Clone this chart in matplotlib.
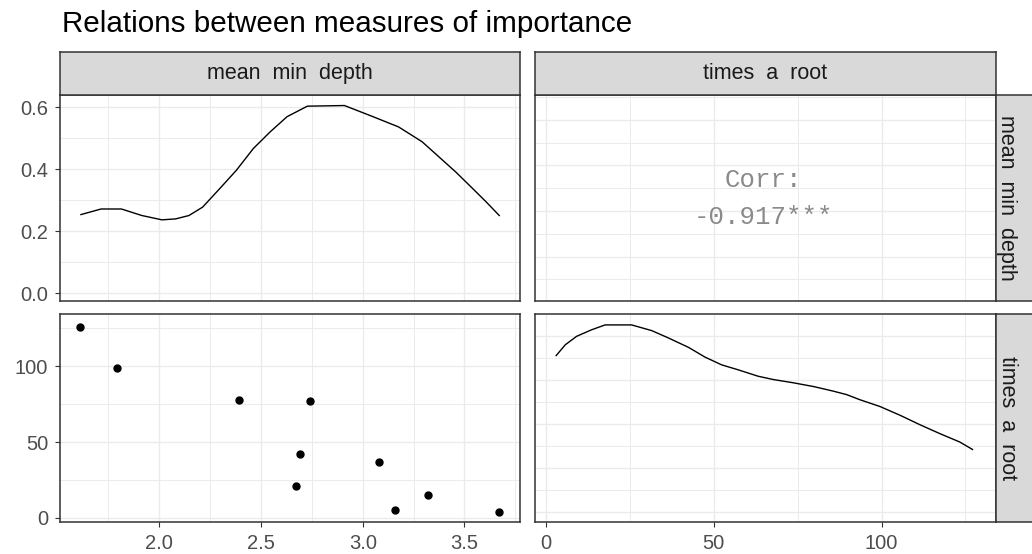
import numpy as np
import matplotlib

matplotlib.use("Agg")
import matplotlib.pyplot as plt

plt.rcParams["font.family"] = ["Liberation Sans", "DejaVu Sans"]

W, H = 1032, 554

# importance measures per variable
mean_min_depth = [1.61, 1.79, 2.39, 2.74, 2.69, 2.67, 3.08, 3.16, 3.32, 3.67]
times_a_root = [126, 99, 78, 77, 42, 21, 37, 5, 15, 4]
corr_value = -0.917

# diagonal density curves
depth_dens_x = [1.615, 1.714, 1.814, 1.914, 2.013, 2.080, 2.146, 2.213, 2.296,
                2.379, 2.462, 2.545, 2.628, 2.728, 2.910, 3.043, 3.176, 3.292,
                3.375, 3.458, 3.542, 3.608, 3.671]
depth_dens_y = [0.254, 0.272, 0.272, 0.251, 0.237, 0.240, 0.251, 0.278, 0.337,
                0.397, 0.467, 0.521, 0.570, 0.604, 0.606, 0.572, 0.537, 0.489,
                0.440, 0.391, 0.337, 0.294, 0.251]
root_dens_x = [3.0, 5.7, 9.1, 13.6, 17.6, 25.5, 31.5, 36.4, 42.4, 47.4, 52.3,
               57.3, 63.2, 67.7, 73.7, 79.7, 85.6, 89.6, 93.5, 99.5, 105.5,
               111.4, 117.4, 123.3, 127.1]
root_dens_y = [0.00712, 0.00761, 0.00800, 0.00830, 0.00852, 0.00852, 0.00826,
               0.00793, 0.00750, 0.00705, 0.00670, 0.00647, 0.00618, 0.00603,
               0.00588, 0.00571, 0.00550, 0.00534, 0.00511, 0.00480, 0.00440,
               0.00397, 0.00356, 0.00318, 0.00284]

depth_lim = (1.512, 3.773)
root_lim = (-3.3, 134.1)
depth_major = [2.0, 2.5, 3.0, 3.5]
depth_minor = [1.75, 2.25, 2.75, 3.25, 3.75]
root_major = [0, 50, 100]
root_minor = [25, 75, 125]

GRID = "#EBEBEB"
DARK = "#333333"
TICK_TXT = "#4D4D4D"


def px_axes(fig, x0, y0, x1, y1):
    return fig.add_axes([x0 / W, 1 - y1 / H, (x1 - x0) / W, (y1 - y0) / H])


def style_panel(ax, xlim, ylim, xmaj, xmin, ymaj, ymin):
    ax.set_xlim(xlim)
    ax.set_ylim(ylim)
    ax.set_xticks(xmaj)
    ax.set_xticks(xmin, minor=True)
    ax.set_yticks(ymaj)
    ax.set_yticks(ymin, minor=True)
    ax.grid(which="major", color=GRID, lw=1.0)
    ax.grid(which="minor", color=GRID, lw=0.7)
    ax.set_axisbelow(True)
    for s in ax.spines.values():
        s.set_color(DARK)
        s.set_linewidth(1.1)
    ax.tick_params(which="both", length=0, labelbottom=False, labelleft=False)


def show_x(ax, labels):
    ax.set_xticklabels(labels)
    ax.tick_params(axis="x", which="major", length=3.5, width=0.8, color=DARK,
                   labelbottom=True, labelsize=14.5, labelcolor=TICK_TXT, pad=5)


def show_y(ax, labels):
    ax.set_yticklabels(labels)
    ax.tick_params(axis="y", which="major", length=3.5, width=0.8, color=DARK,
                   labelleft=True, labelsize=14.5, labelcolor=TICK_TXT, pad=5)


def strip(fig, x0, y0, x1, y1):
    ax = px_axes(fig, x0, y0, x1, y1)
    ax.set_facecolor("#D9D9D9")
    ax.set_xticks([])
    ax.set_yticks([])
    for s in ax.spines.values():
        s.set_color(DARK)
        s.set_linewidth(1.1)
    return ax


fig = plt.figure(figsize=(W / 100, H / 100), dpi=100)

L0, L1 = 60, 520
R0, R1 = 535, 996
T0, T1 = 95, 301
B0, B1 = 314, 521.7

# top-left: density of mean min depth
ax = px_axes(fig, L0, T0, L1, T1)
style_panel(ax, depth_lim, (-0.025, 0.640), depth_major, depth_minor,
            [0.0, 0.2, 0.4, 0.6], [0.1, 0.3, 0.5])
ax.plot(depth_dens_x, depth_dens_y, color="black", lw=1.0)
show_y(ax, ["0.0", "0.2", "0.4", "0.6"])

# top-right: correlation text
ax = px_axes(fig, R0, T0, R1, T1)
style_panel(ax, root_lim, depth_lim, root_major, root_minor,
            depth_major, depth_minor)
cx = (763 - R0) / (R1 - R0)
ax.text(cx, 1 - (180 - T0) / (T1 - T0), "Corr:", transform=ax.transAxes,
        ha="center", va="center", fontsize=18.5, color="#8A8A8A",
        family="Liberation Mono")
ax.text(cx, 1 - (217 - T0) / (T1 - T0), f"{corr_value:.3f}***",
        transform=ax.transAxes, ha="center", va="center", fontsize=18.5,
        color="#8A8A8A", family="Liberation Mono")

# bottom-left: scatter
ax = px_axes(fig, L0, B0, L1, B1)
style_panel(ax, depth_lim, (-2.6, 134.5), depth_major, depth_minor,
            root_major, root_minor)
ax.plot(mean_min_depth, times_a_root, "o", color="black", ms=5, mec="black")
show_x(ax, ["2.0", "2.5", "3.0", "3.5"])
show_y(ax, ["0", "50", "100"])

# bottom-right: density of times a root
ax = px_axes(fig, R0, B0, R1, B1)
style_panel(ax, root_lim, (-0.000455, 0.009018), root_major, root_minor,
            [0.0, 0.002, 0.004, 0.006, 0.008], [0.001, 0.003, 0.005, 0.007])
ax.plot(root_dens_x, root_dens_y, color="black", lw=1.0)
show_x(ax, ["0", "50", "100"])

# facet strips
S0, S1 = 51.5, T0
for x0, x1, label in [(L0, L1, "mean  min  depth"), (R0, R1, "times  a  root")]:
    s = strip(fig, x0, S0, x1, S1)
    s.text(0.5, 0.5, label, transform=s.transAxes, ha="center", va="center",
           fontsize=15.5, color="#1A1A1A")
for y0, y1, label in [(T0, T1, "mean  min  depth"), (B0, B1, "times  a  root")]:
    strip(fig, R1, y0, 1045, y1)
    fig.text(1007 / W, 1 - (y0 + y1) / 2 / H, label, rotation=-90,
             ha="center", va="center", fontsize=15.5, color="#1A1A1A")

fig.text(62 / W, 1 - 32 / H, "Relations between measures of importance",
         ha="left", va="baseline", fontsize=21.3, color="black")

fig.savefig("out.png", dpi=100)
plt.close(fig)
